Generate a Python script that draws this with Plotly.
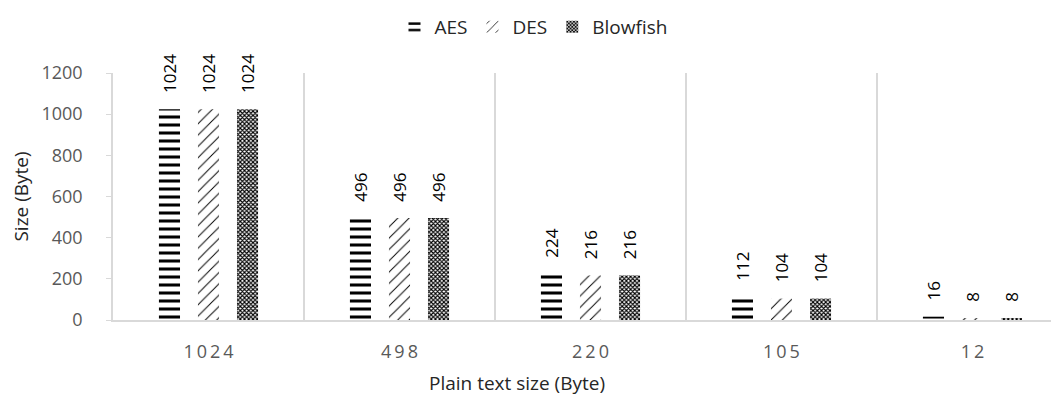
import plotly.graph_objects as go

categories = ["1024", "498", "220", "105", "12"]
tick_labels = ["1\u20090\u20092\u20094", "4\u20099\u20098", "2\u20092\u20090", "1\u20090\u20095", "1\u20092"]
aes = [1024, 496, 224, 112, 16]
des = [1024, 496, 216, 104, 8]
blowfish = [1024, 496, 216, 104, 8]

FONT = "Open Sans"

def bar(name, vals, shape, size, solidity):
    return go.Bar(
        name=name, x=categories, y=vals,
        marker=dict(color="white", line=dict(width=0),
                    pattern=dict(shape=shape, size=size, solidity=solidity,
                                 fgcolor="black", bgcolor="white", fgopacity=1,
                                 fillmode="overlay")),
        texttemplate="\u00a0\u00a0\u00a0%{y}", textposition="outside", textangle=-90,
        textfont=dict(family=FONT, size=17, color="black"),
        cliponaxis=False, constraintext="none",
    )

fig = go.Figure([
    bar("AES", aes, "-", 8, 0.38),
    bar("DES", des, "/", 8, 0.12),
    bar("Blowfish", blowfish, "x", 3, 0.6),
])

fig.update_layout(
    width=1051, height=389,
    margin=dict(l=105, r=0, t=65, b=77, autoexpand=False),
    plot_bgcolor="white", paper_bgcolor="white",
    barmode="group", bargap=0.387, bargroupgap=0.46,
    font=dict(family=FONT, color="#595959"),
    legend=dict(orientation="h", xref="container", x=0.5, xanchor="center",
                yref="container", y=1.0, yanchor="top",
                font=dict(family=FONT, size=19, color="#262626"),
                itemwidth=30, traceorder="normal"),
    xaxis=dict(type="category", range=[-0.5, 4.453], tickson="boundaries",
               tickvals=categories, ticktext=tick_labels, automargin=False,
               showgrid=True, gridcolor="#d9d9d9", gridwidth=1.5,
               showline=True, linecolor="#d9d9d9", linewidth=2,
               ticks="", ticklabelstandoff=14,
               tickfont=dict(family=FONT, size=18, color="#595959")),
    yaxis=dict(range=[0, 1200], dtick=200, showgrid=False, zeroline=False,
               automargin=False,
               showline=True, linecolor="#d9d9d9", linewidth=1.5,
               ticks="outside", ticklen=5, tickcolor="#d9d9d9",
               ticklabelstandoff=20,
               tickfont=dict(family=FONT, size=18, color="#595959"),
               title=dict(text="Size (Byte)", standoff=8,
                          font=dict(family=FONT, size=19, color="#262626"))),
    annotations=[dict(text="Plain text size (Byte)", xref="paper", yref="paper",
                      x=(509 - 105) / 946, y=-0.255, xanchor="center", yanchor="middle",
                      showarrow=False, font=dict(family=FONT, size=19, color="#262626"))],
)

fig.write_html("out.html")
